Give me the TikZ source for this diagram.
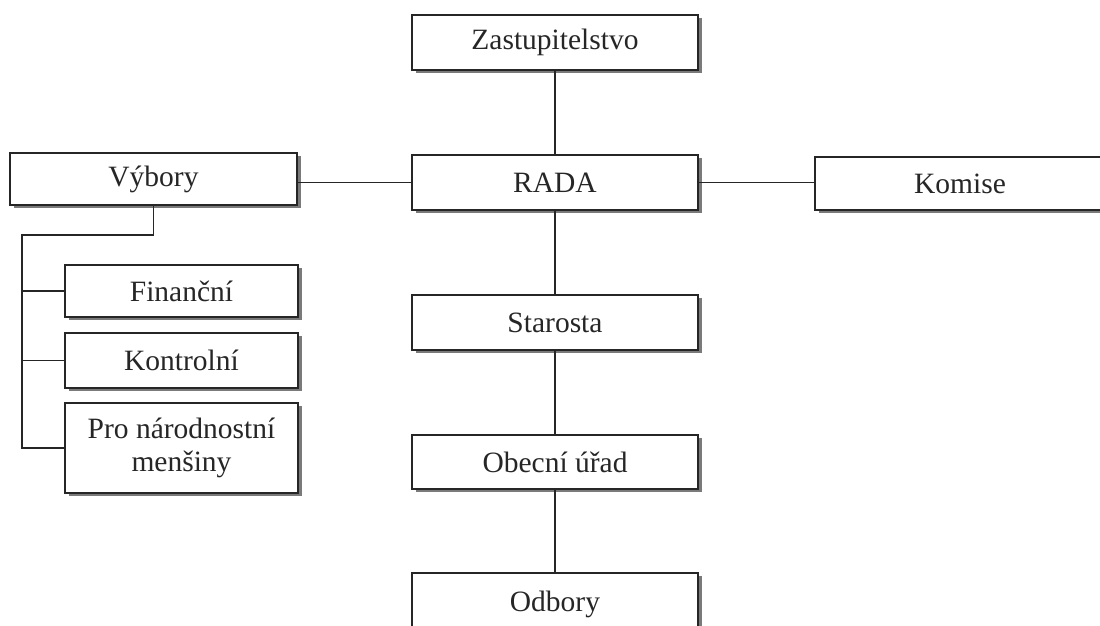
\documentclass[tikz,border=0pt]{standalone}
\usepackage{fontspec}
\setmainfont{Liberation Serif}
\usetikzlibrary{shadows}
\tikzset{
  orgbox/.style={draw=black!85, line width=2pt, fill=white, inner sep=0pt, outer sep=0pt,
    minimum width=286pt, minimum height=55pt, align=center, text=black!85,
    font=\fontsize{29.5}{33}\selectfont,
    drop shadow={shadow xshift=3.5pt, shadow yshift=-3pt, fill=black!65, opacity=0.8}},
  link/.style={draw=black!85, line width=1.9pt}
}
\begin{document}
\begin{tikzpicture}[x=1pt,y=-1pt]
\useasboundingbox (0,0) rectangle (1100,626);
\clip (0,0) rectangle (1100,626);
\fill[white] (0,0) rectangle (1100,626);
% central column
\node[orgbox] (zast) at (555,42.5) {Zastupitelstvo};
\node[orgbox] (rada) at (555,182.5) {RADA};
\node[orgbox] (star) at (555,322.5) {Starosta};
\node[orgbox, minimum height=54pt] (obec) at (555,462) {Obecní úřad};
\node[orgbox, minimum height=62pt] (odb) at (555,604) {Odbory};
% sides
\node[orgbox, minimum width=287pt, minimum height=52pt] (vyb) at (153.5,179) {Výbory};
\node[orgbox, minimum width=290pt, minimum height=53pt] (kom) at (960,183.5) {Komise};
% committees
\node[orgbox, minimum width=233pt, minimum height=52pt] (fin) at (181.5,291) {Finanční};
\node[orgbox, minimum width=233pt, minimum height=55pt] (kon) at (181.5,360.5) {Kontrolní};
\node[orgbox, minimum width=233pt, minimum height=90pt] (pro) at (181.5,448) {Pro národnostní\\menšiny};
% connectors
\draw[link] (zast) -- (rada);
\draw[link] (rada) -- (star);
\draw[link] (star) -- (obec);
\draw[link] (obec) -- (odb);
\draw[link] (rada.west) -- (rada.west -| vyb.east);
\draw[link] (rada.east) -- (rada.east -| kom.west);
\coordinate (tl) at (22,235);
\draw[link] (vyb.south) |- (tl) -- (tl |- pro.west) -- (pro.west);
\draw[link] (tl |- fin.west) -- (fin.west);
\draw[link] (tl |- kon.west) -- (kon.west);
\end{tikzpicture}
\end{document}
